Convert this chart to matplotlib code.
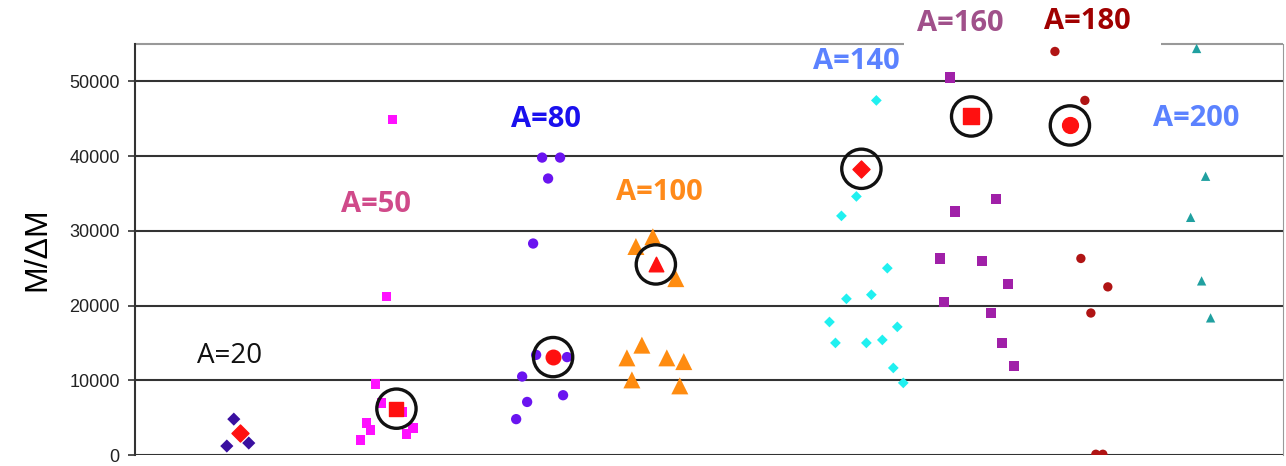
import matplotlib
matplotlib.use("Agg")
import matplotlib.pyplot as plt

# ---- data (x = position along arbitrary horizontal axis, y = M/ΔM) ----
a20_x = [99, 92, 114]
a20_y = [4800, 1200, 1600]
a20_hx, a20_hy = [105], [2900]

a50_x = [258, 252, 241, 247, 232, 236, 226, 272, 279, 268]
a50_y = [44900, 21200, 9500, 7000, 4300, 3350, 2000, 2800, 3600, 5800]
a50_hx, a50_hy = [262], [6200]

a80_x = [408, 426, 414, 399, 402, 433, 388, 393, 382, 429]
a80_y = [39800, 39800, 37000, 28300, 13400, 13100, 10500, 7100, 4800, 8000]
a80_hx, a80_hy = [419], [13100]

a100_x = [502, 519, 542, 493, 508, 498, 533, 550, 546]
a100_y = [27900, 29200, 23600, 13000, 14700, 10050, 13000, 12500, 9250]
a100_hx, a100_hy = [522], [25500]

a140_x = [743, 723, 708, 754, 713, 738, 696, 764, 702, 733, 749, 760, 770]
a140_y = [47450, 34600, 32000, 25000, 20900, 21450, 17800, 17150, 15000, 15000, 15400, 11650, 9650]
a140_hx, a140_hy = [728], [38300]

a160_x = [817, 863, 822, 807, 849, 875, 811, 858, 869, 881]
a160_y = [50500, 34300, 32600, 26300, 26000, 22900, 20500, 19000, 15000, 11900]
a160_hx, a160_hy = [838], [45300]

a180_x = [922, 952, 948, 975, 958, 963, 970]
a180_y = [54000, 47450, 26300, 22500, 19000, 100, 100]
a180_hx, a180_hy = [937], [44100]

a200_x = [1064, 1073, 1058, 1069, 1078]
a200_y = [54400, 37300, 31800, 23300, 18350]

circled_x = [262, 419, 522, 728, 838, 937]
circled_y = [6200, 13100, 25500, 38300, 45300, 44100]

labels = ["A=20", "A=50", "A=80", "A=100", "A=140", "A=160", "A=180", "A=200"]
label_x = [95, 242, 412, 526, 723, 827, 955, 1064]
label_y = [13300, 33500, 44900, 35100, 52700, 57800, 58000, 45000]
label_colors = ["#111111", "#d04a8a", "#1a10ee", "#ff8a1a", "#5b82ff", "#a0508a", "#a00000", "#5b82ff"]
label_weights = ["normal", "bold", "bold", "bold", "bold", "bold", "bold", "bold"]

yticks = [0, 10000, 20000, 30000, 40000, 50000]

# ---- figure ----
fig = plt.figure(figsize=(12.86, 4.66), dpi=100)
ax = fig.add_axes([0.105, 0.0236, 0.893, 0.882])
ax.set_xlim(0, 1151)
ax.set_ylim(0, 55000)

for yv in yticks:
    ax.axhline(yv, color="#333333", lw=1.5, zorder=1)

# top border with a gap behind the A=160 / A=180 labels
ax.hlines(55000, 0, 771, color="#999999", lw=1.5, clip_on=False, zorder=1)
ax.hlines(55000, 1028, 1151, color="#999999", lw=1.5, clip_on=False, zorder=1)

ms = dict(edgecolors="none", zorder=3)
ax.scatter(a20_x, a20_y, marker="D", s=45, color="#3a10a0", **ms)
ax.scatter(a20_hx, a20_hy, marker="D", s=75, color="#ff1010", zorder=4)
ax.scatter(a50_x, a50_y, marker="s", s=50, color="#ff10ff", **ms)
ax.scatter(a50_hx, a50_hy, marker="s", s=110, color="#ff1010", zorder=4)
ax.scatter(a80_x, a80_y, marker="o", s=55, color="#6a14f0", **ms)
ax.scatter(a80_hx, a80_hy, marker="o", s=110, color="#ff1010", zorder=4)
ax.scatter(a100_x, a100_y, marker="^", s=150, color="#ff8c10", **ms)
ax.scatter(a100_hx, a100_hy, marker="^", s=110, color="#ff1010", zorder=4)
ax.scatter(a140_x, a140_y, marker="D", s=30, color="#20f0f0", **ms)
ax.scatter(a140_hx, a140_hy, marker="D", s=75, color="#ff1010", zorder=4)
ax.scatter(a160_x, a160_y, marker="s", s=55, color="#a020a8", **ms)
ax.scatter(a160_hx, a160_hy, marker="s", s=130, color="#ff1010", zorder=4)
ax.scatter(a180_x, a180_y, marker="o", s=45, color="#b01414", **ms)
ax.scatter(a180_hx, a180_hy, marker="o", s=130, color="#ff1010", zorder=4)
ax.scatter(a200_x, a200_y, marker="^", s=45, color="#20a0a0", **ms)

ax.scatter(circled_x, circled_y, marker="o", s=800, facecolors="none",
           edgecolors="#111111", linewidths=2.4, zorder=5)

for t, x, y, c, w in zip(labels, label_x, label_y, label_colors, label_weights):
    ax.text(x, y, t, color=c, fontsize=21 if w == "bold" else 20, fontweight=w,
            family="Open Sans", ha="center", va="center", zorder=6, clip_on=False)

ax.set_yticks(yticks)
ax.set_yticklabels([str(v) for v in yticks], fontsize=13, family="Liberation Sans", color="#222222")
ax.set_xticks([])
ax.tick_params(axis="y", length=5, width=1.2, color="#333333", pad=6)
ax.set_ylabel("M/ΔM", fontsize=23, family="Liberation Sans", labelpad=12)

ax.spines["left"].set_color("#333333")
ax.spines["left"].set_linewidth(1.5)
ax.spines["bottom"].set_visible(False)
ax.spines["top"].set_visible(False)
ax.spines["right"].set_color("#999999")

fig.savefig("out.png", dpi=100)
